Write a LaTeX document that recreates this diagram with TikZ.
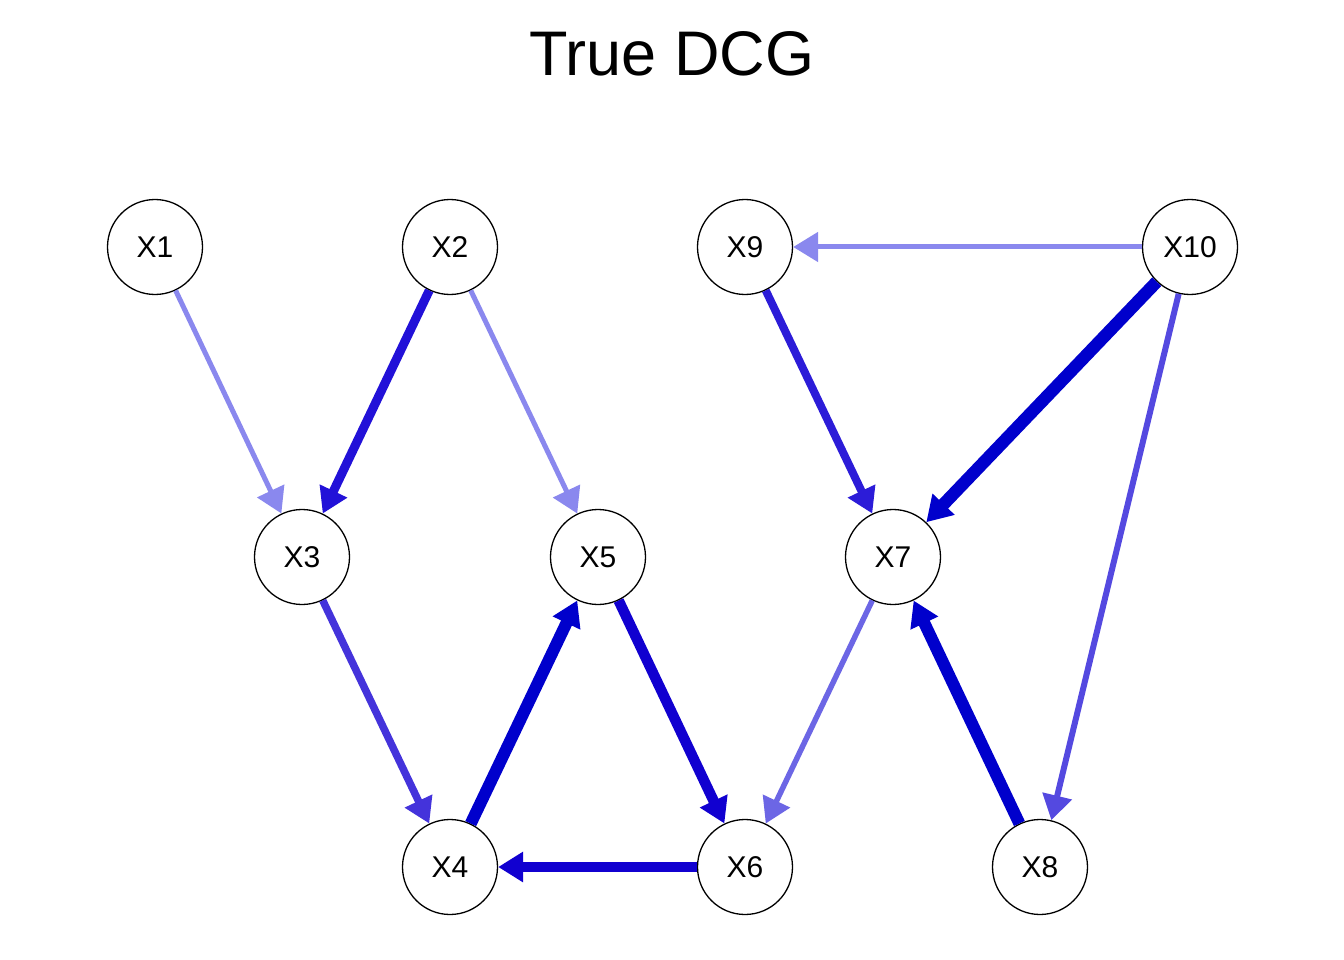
\documentclass[tikz,border=0pt]{standalone}
\usepackage{fontspec}
\setmainfont{Liberation Sans}
\usetikzlibrary{arrows.meta}
\definecolor{eLight}{HTML}{8A88EE}
\definecolor{eSeven}{HTML}{6C66E5}
\definecolor{eTenEight}{HTML}{5449E0}
\definecolor{eThreeFour}{HTML}{4433DB}
\definecolor{eNineSeven}{HTML}{2C1CD8}
\definecolor{eTwoThree}{HTML}{2211D8}
\definecolor{eFiveSix}{HTML}{1100D0}
\definecolor{eDark}{HTML}{0000CC}
\begin{document}
\begin{tikzpicture}[x=1pt,y=-1pt,
  var/.style={circle,draw=black,line width=1.3pt,fill=white,minimum size=95pt,inner sep=0pt,font=\fontsize{30}{32}\selectfont},
  edge/.style={-{Triangle[length=25pt 0 0,width=29pt 0 0]}},
]
\fill[white] (0,0) rectangle (1344,960);
\useasboundingbox (0,0) rectangle (1344,960);
\node[font=\fontsize{63}{70}\selectfont, anchor=base] (title) at (672,76) {True DCG};
\node[var] (X1) at (155,247) {X1};
\node[var] (X2) at (450,247) {X2};
\node[var] (X9) at (745,247) {X9};
\node[var] (X10) at (1190,247) {X10};
\node[var] (X3) at (302,557) {X3};
\node[var] (X5) at (598,557) {X5};
\node[var] (X7) at (893,557) {X7};
\node[var] (X4) at (450,867) {X4};
\node[var] (X6) at (745,867) {X6};
\node[var] (X8) at (1040,867) {X8};
\draw[edge,draw=eLight,fill=eLight,line width=5pt] (X1) -- (X3);
\draw[edge,draw=eLight,fill=eLight,line width=5pt] (X2) -- (X5);
\draw[edge,draw=eLight,fill=eLight,line width=5pt] (X10) -- (X9);
\draw[edge,draw=eSeven,fill=eSeven,line width=5.5pt] (X7) -- (X6);
\draw[edge,draw=eTenEight,fill=eTenEight,line width=6pt] (X10) -- (X8);
\draw[edge,draw=eThreeFour,fill=eThreeFour,line width=7.5pt] (X3) -- (X4);
\draw[edge,draw=eNineSeven,fill=eNineSeven,line width=8pt] (X9) -- (X7);
\draw[edge,draw=eTwoThree,fill=eTwoThree,line width=9pt] (X2) -- (X3);
\draw[edge,draw=eFiveSix,fill=eFiveSix,line width=10.5pt] (X5) -- (X6);
\draw[edge,draw=eFiveSix,fill=eFiveSix,line width=10.5pt] (X6) -- (X4);
\draw[edge,draw=eDark,fill=eDark,line width=12pt] (X4) -- (X5);
\draw[edge,draw=eDark,fill=eDark,line width=12pt] (X8) -- (X7);
\draw[edge,draw=eDark,fill=eDark,line width=12.5pt] (X10) -- (X7);
\end{tikzpicture}
\end{document}
